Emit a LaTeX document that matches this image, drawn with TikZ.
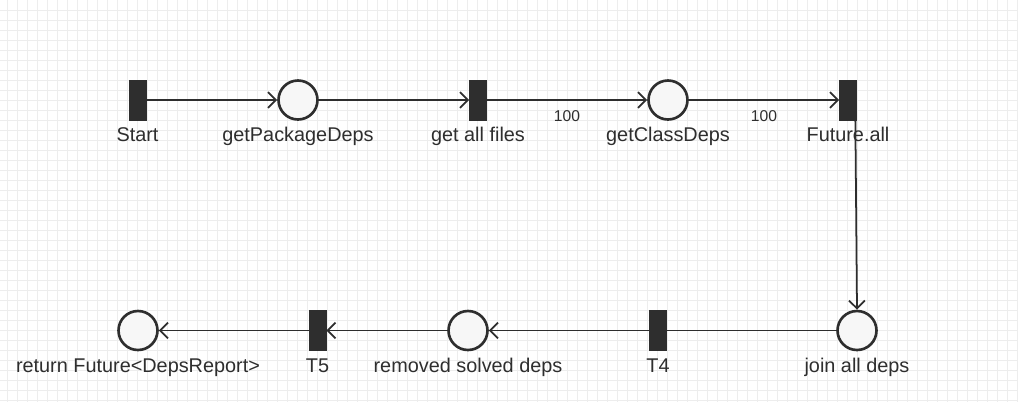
\documentclass[tikz,border=0pt]{standalone}
\usepackage{fontspec}
\setmainfont{Liberation Sans}
\usepackage{tikz}
\usepackage{xcolor}
\usetikzlibrary{arrows.meta}
\definecolor{net-dark}{HTML}{2E2E2E}
\definecolor{net-grid}{HTML}{EDEDED}
\tikzset{
    place/.style = {draw=net-dark, fill=white!97!black, circle, line width=1.5pt, minimum size=0.78cm, inner sep=0pt},
    transition/.style = {draw=net-dark, fill=net-dark, rectangle, minimum width=0.34cm, minimum height=0.8cm, inner sep=0pt},
    node-label/.style = {text=net-dark, font=\fontsize{11.3}{13}\selectfont, inner sep=0pt, anchor=base},
    arc-label/.style = {text=net-dark, font=\fontsize{8.9}{10}\selectfont, inner sep=0pt, anchor=base},
    arc/.style = {draw=net-dark, line width=1pt, -{Straight Barb[length=4.5pt, width=9pt]}},
    plain-arc/.style = {draw=net-dark, line width=1pt},
}

\begin{document}
\begin{tikzpicture}
\useasboundingbox (0,0) rectangle (20.36,-8.04);
\fill[white] (0,0) rectangle (20.36,-8.04);
\foreach \x in {0,...,101}
    \draw[net-grid, line width=0.6pt] (0.146+0.2*\x,0) -- (0.146+0.2*\x,-8.04);
\foreach \y in {0,...,39}
    \draw[net-grid, line width=0.6pt] (0,-0.214-0.2*\y) -- (20.36,-0.214-0.2*\y);

\node[transition] (start) at (2.75,-2) {};
\node[place] (package-deps) at (5.96,-2) {};
\node[transition] (all-files) at (9.56,-2) {};
\node[place] (class-deps) at (13.36,-2) {};
\node[transition] (future-all) at (16.96,-2) {};
\node[place] (join-deps) at (17.14,-6.61) {};
\node[transition] (t4) at (13.16,-6.61) {};
\node[place] (removed-deps) at (9.36,-6.61) {};
\node[transition] (t5) at (6.35,-6.61) {};
\node[place] (return-report) at (2.76,-6.61) {};

\node[node-label] at ([yshift=-0.834cm]start.center) {Start};
\node[node-label] at ([yshift=-0.834cm]package-deps.center) {getPackageDeps};
\node[node-label] at ([yshift=-0.834cm]all-files.center) {get all files};
\node[node-label] at ([yshift=-0.834cm]class-deps.center) {getClassDeps};
\node[node-label] at ([yshift=-0.834cm]future-all.center) {Future.all};
\node[node-label] at ([yshift=-0.834cm]join-deps.center) {join all deps};
\node[node-label] at ([yshift=-0.834cm]t4.center) {T4};
\node[node-label] at ([yshift=-0.834cm]removed-deps.center) {removed solved deps};
\node[node-label] at ([yshift=-0.834cm]t5.center) {T5};
\node[node-label] at ([yshift=-0.834cm]return-report.center) {return Future<DepsReport>};

\draw[arc] (start) -- (package-deps);
\draw[arc] (package-deps) -- (all-files);
\draw[arc] (all-files) -- node[arc-label, midway, yshift=-0.434cm] {100} (class-deps);
\draw[arc] (class-deps) -- node[arc-label, midway, yshift=-0.434cm] {100} (future-all);
\draw[arc] ([xshift=-0.03cm]future-all.south east) -- (join-deps.north);
\draw[plain-arc] (join-deps) -- (t4);
\draw[arc] (t4) -- (removed-deps);
\draw[arc] (removed-deps) -- (t5);
\draw[arc] (t5) -- (return-report);
\end{tikzpicture}
\end{document}
